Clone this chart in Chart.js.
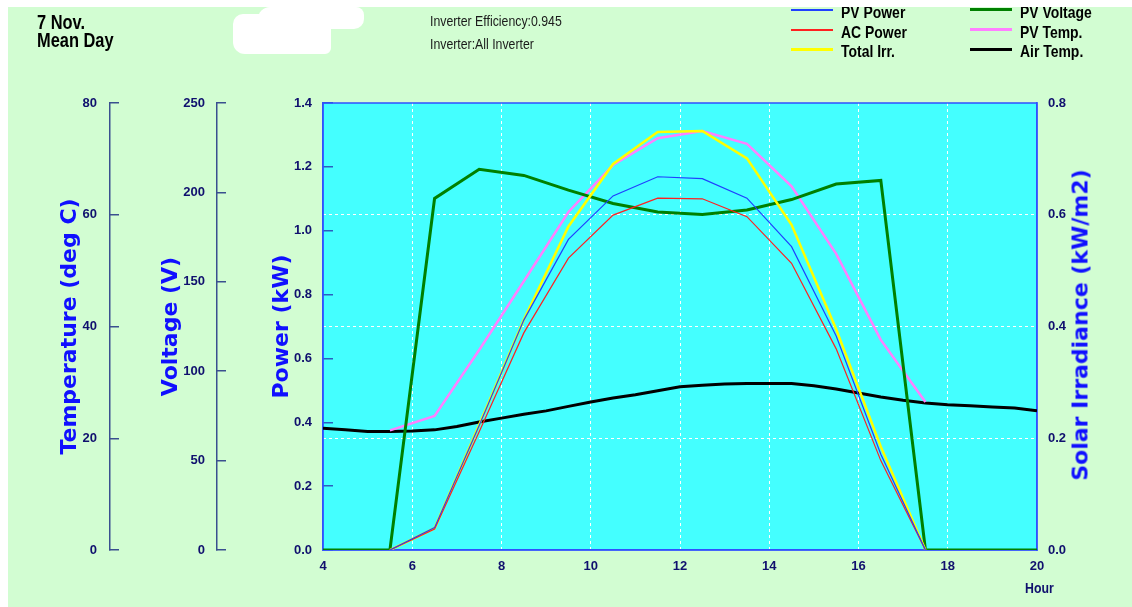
<!DOCTYPE html>
<html>
<head>
<meta charset="utf-8">
<script src="https://cdn.jsdelivr.net/npm/chart.js@4.4.1/dist/chart.umd.min.js"></script>
<style>
  html, body { margin: 0; padding: 0; background: #ffffff; }
  #wrap { position: relative; width: 1132px; height: 607px; overflow: hidden; background: #ffffff; }
  #green { position: absolute; left: 8px; top: 7px; right: 0; bottom: 0; background: #d2fdd2; }
  canvas { position: absolute; left: 0; top: 0; }
  .t { position: absolute; white-space: nowrap; font-family: "Liberation Sans", Arial, sans-serif; transform-origin: 0 0; transform: scaleX(0.82); }
  .big { font-weight: bold; font-size: 20px; line-height: 20px; color: #000; }
  .info { font-size: 15px; line-height: 15px; color: #1a1a1a; }
  .leg { font-weight: bold; font-size: 17px; line-height: 17px; color: #000; }
  .sw { position: absolute; width: 42px; }
  .blob { position: absolute; background: #ffffff; }
  .ytitle { position: absolute; white-space: nowrap; font-family: "DejaVu Sans", sans-serif; font-weight: bold; font-size: 22px; color: #1010ff; transform: translate(-50%, -50%) rotate(-90deg); }
  #topwhite { position: absolute; left: 0; top: 0; width: 1132px; height: 7px; background: #fff; }
</style>
</head>
<body>
<div id="wrap">
  <div id="green"></div>
  <canvas id="c" width="1132" height="607"></canvas>

  <div class="t big" style="left:37px; top:12px;">7 Nov.</div>
  <div class="t big" style="left:37px; top:30px;">Mean Day</div>

  <div class="blob" style="left:233px; top:14px; width:98px; height:40px; border-radius:10px 4px 6px 12px;"></div>
  <div class="blob" style="left:258px; top:7px; width:106px; height:22px; border-radius:12px 8px 10px 6px;"></div>

  <div class="t info" style="left:430px; top:13px;">Inverter Efficiency:0.945</div>
  <div class="t info" style="left:430px; top:36px;">Inverter:All Inverter</div>

  <div class="sw" style="left:791px; top:9px; height:1.5px; background:#2040ff;"></div>
  <div class="t leg" style="left:841px; top:4px;">PV Power</div>
  <div class="sw" style="left:791px; top:29px; height:1.5px; background:#ff2020;"></div>
  <div class="t leg" style="left:841px; top:24px;">AC Power</div>
  <div class="sw" style="left:791px; top:48px; height:2.5px; background:#ffff00;"></div>
  <div class="t leg" style="left:841px; top:43px;">Total Irr.</div>

  <div class="sw" style="left:970px; top:8px; height:3px; background:#008000;"></div>
  <div class="t leg" style="left:1020px; top:4px;">PV Voltage</div>
  <div class="sw" style="left:970px; top:28px; height:3px; background:#ff80ff;"></div>
  <div class="t leg" style="left:1020px; top:24px;">PV Temp.</div>
  <div class="sw" style="left:970px; top:48px; height:3px; background:#000000;"></div>
  <div class="t leg" style="left:1020px; top:43px;">Air Temp.</div>

  <div class="ytitle" style="left:1080px; top:325px;">Solar Irradiance (kW/m2)</div>
  <div class="t" style="left:1025px; top:580px; font-weight:bold; font-size:15px; line-height:15px; color:#10106e;">Hour</div>

  <div id="topwhite"></div>
</div>
<script>
// ---- data ----
const airHours = [4,4.5,5,5.5,6,6.5,7,7.5,8,8.5,9,9.5,10,10.5,11,11.5,12,12.5,13,13.5,14,14.5,15,15.5,16,16.5,17,17.5,18,18.5,19,19.5,20];
const airTemp  = [21.8,21.5,21.2,21.2,21.3,21.5,22.1,22.9,23.6,24.3,24.9,25.7,26.5,27.2,27.8,28.5,29.2,29.5,29.7,29.8,29.8,29.8,29.4,28.8,28.1,27.4,26.8,26.3,26.0,25.8,25.6,25.4,24.9];

const voltHours = [4,5.5,6.5,7.5,8.5,9.5,10.5,11.5,12.5,13.5,14.5,15.5,16.5,17.5,20];
const pvVoltage = [0,0,196.6,212.9,209.5,201.3,193.8,189.0,187.6,190.2,196.0,204.7,206.7,0,0];

const sunHours = [5.5,6.5,7.5,8.5,9.5,10.5,11.5,12.5,13.5,14.5,15.5,16.5,17.5];
const pvPower  = [0,0.070,0.39,0.72,0.973,1.109,1.169,1.163,1.102,0.950,0.67,0.30,0];
const acPower  = [0,0.066,0.37,0.68,0.914,1.049,1.102,1.100,1.044,0.898,0.63,0.28,0];
const totalIrr = [0,0.039,0.224,0.412,0.579,0.691,0.748,0.750,0.701,0.582,0.395,0.185,0];
const pvTemp   = [21.4,24.0,35.8,48.1,60.5,68.9,73.7,75.0,72.7,65.1,53.0,37.6,26.5];

const hourTicks = [4,6,8,10,12,14,16,18,20];

const pairs = (xs, ys) => xs.map((x, i) => ({x: x, y: ys[i]}));

const tickFont = { family: '"Liberation Sans", Arial, sans-serif', size: 13, weight: 'bold' };
const titleFont = { family: '"DejaVu Sans", sans-serif', size: 22, weight: 'bold' };
const navy = '#10106e';
const axisCol = '#3a4f8f';
const frameCol = '#3050ff';

const bgPlugin = {
  id: 'bgPlugin',
  beforeDraw(chart) {
    const {ctx, chartArea: a} = chart;
    ctx.save();
    ctx.fillStyle = '#44ffff';
    ctx.fillRect(a.left, a.top, a.right - a.left, a.bottom - a.top);
    ctx.restore();
  },
  beforeDatasetsDraw(chart) {
    const {ctx, chartArea: a} = chart;
    ctx.save();
    ctx.strokeStyle = frameCol;
    ctx.lineWidth = 1.5;
    ctx.strokeRect(a.left, a.top, a.right - a.left, a.bottom - a.top);
    ctx.restore();
  }
};

const fmt1 = v => Number(v).toFixed(1);

new Chart(document.getElementById('c'), {
  type: 'line',
  data: {
    datasets: [
      { label: 'PV Power', data: pairs(sunHours, pvPower), yAxisID: 'yPower', borderColor: '#2040ff', borderWidth: 1.2 },
      { label: 'AC Power', data: pairs(sunHours, acPower), yAxisID: 'yPower', borderColor: '#ff2020', borderWidth: 1.2 },
      { label: 'Total Irr.', data: pairs(sunHours, totalIrr), yAxisID: 'yIrr', borderColor: '#ffff00', borderWidth: 2.5 },
      { label: 'PV Voltage', data: pairs(voltHours, pvVoltage), yAxisID: 'yVolt', borderColor: '#008000', borderWidth: 3 },
      { label: 'PV Temp.', data: pairs(sunHours, pvTemp), yAxisID: 'yTemp', borderColor: '#ff80ff', borderWidth: 2.5 },
      { label: 'Air Temp.', data: pairs(airHours, airTemp), yAxisID: 'yTemp', borderColor: '#000000', borderWidth: 3 }
    ]
  },
  options: {
    responsive: false,
    devicePixelRatio: 1,
    animation: false,
    events: [],
    elements: { point: { radius: 0 }, line: { tension: 0, fill: false } },
    layout: { padding: { left: 53, top: 103, right: 0, bottom: 17 } },
    plugins: { legend: { display: false }, tooltip: { enabled: false } },
    scales: {
      x: {
        type: 'linear', position: 'bottom', min: 4, max: 20,
        afterBuildTicks: s => { s.ticks = hourTicks.map(v => ({value: v})); },
        afterFit: s => { s.height = 40; },
        ticks: { font: tickFont, color: navy, padding: 9, maxRotation: 0, autoSkip: false },
        grid: { drawTicks: false, color: c => (c.tick && c.tick.value > 4 && c.tick.value < 20) ? '#ffffff' : 'rgba(0,0,0,0)', lineWidth: 1 },
        border: { color: frameCol, width: 1.5, dash: [3, 3] }
      },
      yTemp: {
        position: 'left', weight: 3, min: 0, max: 80,
        afterFit: s => { s.width = 57; },
        ticks: { stepSize: 20, font: tickFont, color: navy, padding: 22 },
        grid: { drawOnChartArea: false, drawTicks: true, tickLength: -9, color: axisCol, lineWidth: 1.5 },
        border: { color: axisCol, width: 1.5 },
        title: { display: true, text: 'Temperature (deg C)', font: titleFont, color: '#1010ff', padding: { top: 4, bottom: 0 } }
      },
      yVolt: {
        position: 'left', weight: 2, min: 0, max: 250,
        afterFit: s => { s.width = 107; },
        ticks: { stepSize: 50, font: tickFont, color: navy, padding: 21 },
        grid: { drawOnChartArea: false, drawTicks: true, tickLength: -9, color: axisCol, lineWidth: 1.5 },
        border: { color: axisCol, width: 1.5 },
        title: { display: true, text: 'Voltage (V)', font: titleFont, color: '#1010ff', padding: { top: 48, bottom: 0 } }
      },
      yPower: {
        position: 'left', weight: 1, min: 0, max: 1.4,
        afterFit: s => { s.width = 106; },
        ticks: { stepSize: 0.2, font: tickFont, color: navy, padding: 21, callback: fmt1 },
        grid: { drawOnChartArea: false, drawTicks: true, tickLength: -10, color: '#2a5fc0', lineWidth: 1.5 },
        border: { color: frameCol, width: 1.5 },
        title: { display: true, text: 'Power (kW)', font: titleFont, color: '#1010ff', padding: { top: 52, bottom: 0 } }
      },
      yIrr: {
        position: 'right', min: 0, max: 0.8,
        afterFit: s => { s.width = 95; },
        ticks: { stepSize: 0.2, font: tickFont, color: navy, padding: 11, callback: fmt1 },
        grid: { drawOnChartArea: true, drawTicks: false, color: c => (c.tick && c.tick.value > 0.01 && c.tick.value < 0.79) ? '#ffffff' : 'rgba(0,0,0,0)', lineWidth: 1 },
        border: { color: frameCol, width: 1.5, dash: [3, 3] }
      }
    }
  },
  plugins: [bgPlugin]
});
</script>
</body>
</html>
